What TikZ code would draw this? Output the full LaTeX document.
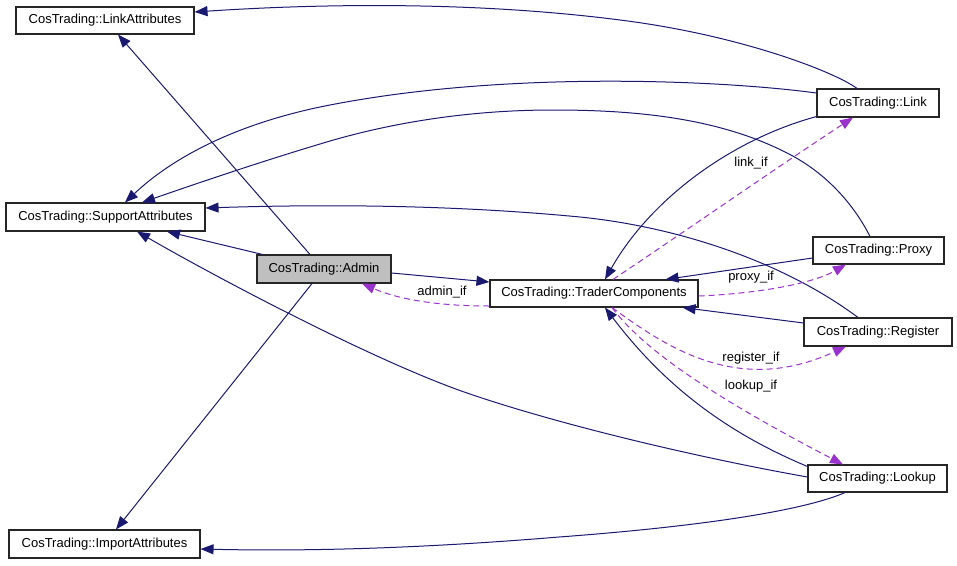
\documentclass[tikz,border=0pt]{standalone}
\usepackage{fontspec}
\setmainfont{Liberation Sans}
\usetikzlibrary{arrows.meta,calc}
\definecolor{edgeblue}{RGB}{25,25,112}
\definecolor{edgepurple}{RGB}{154,50,205}
\definecolor{boxgray}{RGB}{191,191,191}
\tikzset{
  cls/.style={draw=black!85, line width=1.1pt, fill=white, inner sep=0pt, font=\fontsize{13}{15}\selectfont, text=black},
  lbl/.style={inner sep=0pt, font=\fontsize{13}{15}\selectfont, text=black},
  inh/.style={draw=edgeblue, line width=1pt, -{Triangle[length=13pt,width=10pt]}},
  use/.style={draw=edgepurple, line width=1pt, dash pattern=on 6pt off 4pt, -{Triangle[length=13pt,width=10pt]}},
}
\begin{document}
\begin{tikzpicture}[x=1pt,y=-1pt]
\useasboundingbox (0,0) rectangle (957,565);
% nodes
\node[cls, minimum width=178pt, minimum height=27pt] (la) at (105,20.5) {CosTrading::LinkAttributes};
\node[cls, minimum width=199pt, minimum height=28pt] (sa) at (105.5,217) {CosTrading::SupportAttributes};
\node[cls, fill=boxgray, minimum width=134pt, minimum height=28pt] (ad) at (324,269) {CosTrading::Admin};
\node[cls, minimum width=208pt, minimum height=27pt] (tc) at (594,293.5) {CosTrading::TraderComponents};
\node[cls, minimum width=122pt, minimum height=28pt] (lk) at (878,103) {CosTrading::Link};
\node[cls, minimum width=131pt, minimum height=27pt] (px) at (878.5,250.5) {CosTrading::Proxy};
\node[cls, minimum width=148pt, minimum height=28pt] (rg) at (878,332) {CosTrading::Register};
\node[cls, minimum width=139pt, minimum height=27pt] (lu) at (877.5,478.5) {CosTrading::Lookup};
\node[cls, minimum width=191pt, minimum height=28pt] (ia) at (104.5,544) {CosTrading::ImportAttributes};
% labels
\node[lbl] (l1) at (442,292) {admin\_if};
\node[lbl] (l2) at (751,163) {link\_if};
\node[lbl] (l3) at (751,277) {proxy\_if};
\node[lbl] (l4) at (751,358) {register\_if};
\node[lbl] (l5) at (751,386) {lookup\_if};
% inheritance / usage edges
\draw[inh] ($(ad.north)+(-14,0)$) -- ($(la.south)+(13,0)$);
\draw[inh] ($(lk.north)+(-21,0)$) .. controls (835,72) and (740,35) .. (620,20) .. controls (480,2) and (330,3) .. ($(la.east)+(0,-8.5)$);
\draw[inh] ($(lk.west)+(0,-10)$) .. controls (720,80) and (500,70) .. (320,107) .. controls (230,126) and (170,160) .. ($(sa.north)+(19.5,0)$);
\draw[inh] ($(px.north)+(-8.5,0)$) .. controls (852,201) and (823,171) .. (787,153) .. controls (717,117) and (632,110) .. (553,110) .. controls (475,110) and (395,121) .. (320,144) .. controls (260,162) and (201,182) .. ($(sa.north)+(36.5,0)$);
\draw[inh] ($(rg.north)+(-20,0)$) .. controls (778,258) and (670,226) .. (580,217) .. controls (455,205) and (328,204) .. ($(sa.east)+(0,-9)$);
\draw[inh] ($(ad.north west)+(6,0)$) -- ($(sa.south)+(61.5,0)$);
\draw[inh] ($(lu.west)+(0,-1.5)$) .. controls (700,458) and (560,425) .. (467,393) .. controls (380,363) and (230,285) .. ($(sa.south)+(31.5,0)$);
\draw[inh] ($(ad.south)+(-12,0)$) -- ($(ia.north)+(11.5,0)$);
\draw[inh] ($(lu.south)+(-32.5,0)$) .. controls (810,508) and (720,525) .. (559,537) .. controls (450,546) and (330,552) .. ($(ia.east)+(0,5)$);
\draw[inh] ($(ad.east)+(0,4)$) -- ($(tc.west)+(0,-11.5)$);
\draw[use] ($(tc.west)+(0,12.5)$) .. controls (440,306) and (400,300) .. ($(ad.south)+(38,0)$);
\draw[inh] ($(lk.south west)+(0,-1)$) .. controls (730,140) and (650,200) .. ($(tc.north)+(11,0)$);
\draw[use] ($(tc.north)+(19,0)$) .. controls (690,228) and (770,172) .. ($(lk.south)+(-25,0)$);
\draw[inh] ($(px.west)+(0,7.5)$) -- ($(tc.north east)+(-33,0)$);
\draw[use] ($(tc.east)+(0,2.5)$) .. controls (750,294) and (810,285) .. ($(px.south)+(-32.5,0)$);
\draw[inh] ($(rg.west)+(0,-9)$) -- ($(tc.south east)+(-16,0)$);
\draw[use] ($(tc.south)+(18,0)$) .. controls (670,350) and (740,395) .. ($(rg.south)+(-32,0)$);
\draw[inh] ($(lu.north west)+(0,2)$) .. controls (720,430) and (660,380) .. ($(tc.south)+(11,0)$);
\draw[use] ($(tc.south)+(18,0)$) .. controls (640,345) and (700,390) .. ($(lu.north)+(-34.5,0)$);
\end{tikzpicture}
\end{document}
